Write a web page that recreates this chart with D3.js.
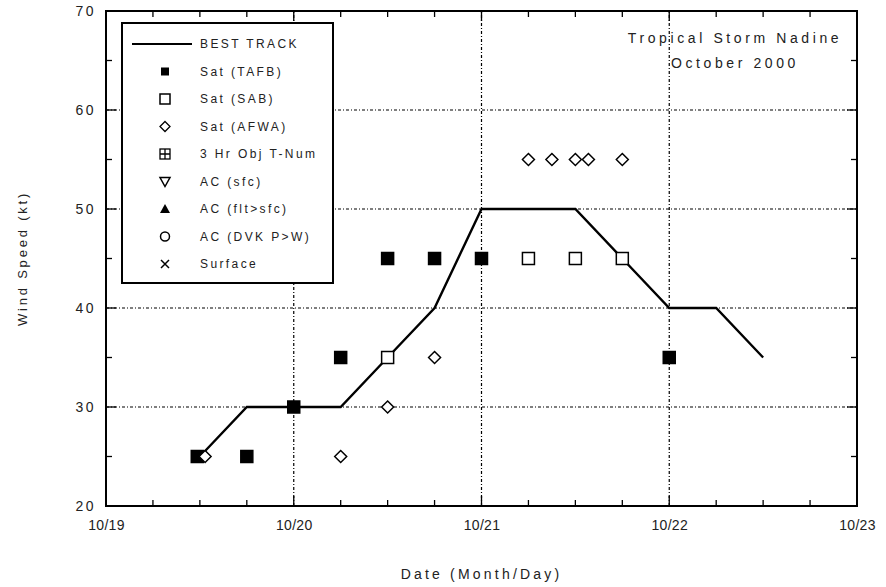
<!DOCTYPE html>
<html>
<head>
<meta charset="utf-8">
<script src="https://cdn.jsdelivr.net/npm/d3@7"></script>
<style>
  body { margin: 0; background: #fff; }
  text { font-family: "Liberation Sans", Arial, sans-serif; fill: #222; }
</style>
</head>
<body>
<div id="chart"></div>
<script>
// Best track, 6-hourly (UTC)
const bestTimes = ["2000-10-19T12:00", "2000-10-19T18:00", "2000-10-20T00:00", "2000-10-20T06:00", "2000-10-20T12:00",
  "2000-10-20T18:00", "2000-10-21T00:00", "2000-10-21T06:00", "2000-10-21T12:00", "2000-10-21T18:00",
  "2000-10-22T00:00", "2000-10-22T06:00", "2000-10-22T12:00"];
const bestWind = [25, 30, 30, 30, 35, 40, 50, 50, 50, 45, 40, 40, 35];

// Satellite estimates
const sabTimes = ["2000-10-20T12:00", "2000-10-21T06:00", "2000-10-21T12:00", "2000-10-21T18:00"];
const sabWind = [35, 45, 45, 45];

const tafbTimes = ["2000-10-19T11:40", "2000-10-19T18:00", "2000-10-20T00:00", "2000-10-20T06:00", "2000-10-20T12:00",
  "2000-10-20T18:00", "2000-10-21T00:00", "2000-10-22T00:00"];
const tafbWind = [25, 25, 30, 35, 45, 45, 45, 35];

const afwaTimes = ["2000-10-19T12:40", "2000-10-20T06:00", "2000-10-20T12:00", "2000-10-20T18:00", "2000-10-21T06:00",
  "2000-10-21T09:00", "2000-10-21T12:00", "2000-10-21T13:40", "2000-10-21T18:00"];
const afwaWind = [25, 25, 30, 35, 55, 55, 55, 55, 55];

const legendLabels = ["BEST TRACK", "Sat (TAFB)", "Sat (SAB)", "Sat (AFWA)", "3 Hr Obj T-Num",
  "AC (sfc)", "AC (flt>sfc)", "AC (DVK P>W)", "Surface"];

const parse = d3.utcParse("%Y-%m-%dT%H:%M");

const width = 886, height = 587;
const margin = { left: 106, right: 29, top: 11, bottom: 81 };

const svg = d3.select("#chart").append("svg")
  .attr("width", width)
  .attr("height", height);

const x = d3.scaleUtc()
  .domain([parse("2000-10-19T00:00"), parse("2000-10-23T00:00")])
  .range([margin.left, width - margin.right]);

const y = d3.scaleLinear()
  .domain([20, 70])
  .range([height - margin.bottom, margin.top]);

const x0 = x.range()[0], x1 = x.range()[1];
const y0 = y.range()[0], y1 = y.range()[1];

// grid lines (dash-dot)
const grid = svg.append("g")
  .attr("stroke", "#000")
  .attr("stroke-width", 1.2)
  .attr("stroke-dasharray", "3,2,1,2");
[30, 40, 50, 60].forEach(v => {
  grid.append("line").attr("x1", x0).attr("x2", x1).attr("y1", y(v)).attr("y2", y(v));
});
["2000-10-20T00:00", "2000-10-21T00:00", "2000-10-22T00:00"].forEach(t => {
  grid.append("line").attr("x1", x(parse(t))).attr("x2", x(parse(t))).attr("y1", y0).attr("y2", y1);
});

// axes: ticks inward on all four sides
const fmt = d3.utcFormat("%m/%d");
const dayTicks = x.ticks(d3.utcDay.every(1));
const sixHour = x.ticks(d3.utcHour.every(6));

svg.append("g")
  .attr("transform", `translate(0,${y0})`)
  .call(d3.axisBottom(x).tickValues(dayTicks).tickFormat(fmt).tickSize(0).tickPadding(14))
  .call(g => g.select(".domain").remove())
  .selectAll("text").attr("font-size", 14).attr("letter-spacing", 0.3);

svg.append("g")
  .attr("transform", `translate(${x0},0)`)
  .call(d3.axisLeft(y).tickValues([20, 30, 40, 50, 60, 70]).tickSize(0).tickPadding(10))
  .call(g => g.select(".domain").remove())
  .selectAll("text").attr("font-size", 14).attr("letter-spacing", 2.5);

const ticks = svg.append("g").attr("stroke", "#000").attr("stroke-width", 1.3);
sixHour.forEach(t => {
  const len = t.getUTCHours() === 0 ? 10 : 6;
  ticks.append("line").attr("x1", x(t)).attr("x2", x(t)).attr("y1", y0).attr("y2", y0 - len);
  ticks.append("line").attr("x1", x(t)).attr("x2", x(t)).attr("y1", y1).attr("y2", y1 + len);
});
d3.range(20, 71, 5).forEach(v => {
  const len = v % 10 === 0 ? 10 : 6;
  ticks.append("line").attr("x1", x0).attr("x2", x0 + len).attr("y1", y(v)).attr("y2", y(v));
  ticks.append("line").attr("x1", x1).attr("x2", x1 - len).attr("y1", y(v)).attr("y2", y(v));
});

// frame
svg.append("rect")
  .attr("x", x0).attr("y", y1)
  .attr("width", x1 - x0).attr("height", y0 - y1)
  .attr("fill", "none").attr("stroke", "#000").attr("stroke-width", 2);

// axis titles
svg.append("text")
  .attr("x", (x0 + x1) / 2).attr("y", 579)
  .attr("text-anchor", "middle").attr("font-size", 14).attr("letter-spacing", 3.2)
  .text("Date (Month/Day)");

svg.append("text")
  .attr("transform", `translate(27,${(y0 + y1) / 2}) rotate(-90)`)
  .attr("text-anchor", "middle").attr("font-size", 13).attr("letter-spacing", 2.8)
  .text("Wind Speed (kt)");

// storm title
svg.append("text")
  .attr("x", 735).attr("y", 43)
  .attr("text-anchor", "middle").attr("font-size", 14).attr("letter-spacing", 3.6)
  .text("Tropical Storm Nadine");
svg.append("text")
  .attr("x", 735).attr("y", 68)
  .attr("text-anchor", "middle").attr("font-size", 14).attr("letter-spacing", 3.6)
  .text("October 2000");

// best track line
const line = d3.line()
  .x(d => x(d[0]))
  .y(d => y(d[1]));

svg.append("path")
  .datum(bestTimes.map((t, i) => [parse(t), bestWind[i]]))
  .attr("d", line)
  .attr("fill", "none")
  .attr("stroke", "#000")
  .attr("stroke-width", 2.4);

// symbol helpers
const diamondPath = s => `M0,${-s}L${s},0L0,${s}L${-s},0Z`;

function drawSquares(times, vals, filled) {
  svg.append("g").selectAll("rect")
    .data(times.map((t, i) => [parse(t), vals[i]]))
    .enter().append("rect")
    .attr("x", d => x(d[0]) - 6).attr("y", d => y(d[1]) - 6)
    .attr("width", 12).attr("height", 12)
    .attr("fill", filled ? "#000" : "#fff")
    .attr("stroke", "#000").attr("stroke-width", 1.5);
}

drawSquares(sabTimes, sabWind, false);
drawSquares(tafbTimes, tafbWind, true);

svg.append("g").selectAll("path")
  .data(afwaTimes.map((t, i) => [parse(t), afwaWind[i]]))
  .enter().append("path")
  .attr("transform", d => `translate(${x(d[0])},${y(d[1])})`)
  .attr("d", diamondPath(6))
  .attr("fill", "#fff")
  .attr("stroke", "#000")
  .attr("stroke-width", 1.5);

// legend
const lg = svg.append("g");
lg.append("rect")
  .attr("x", 122).attr("y", 23).attr("width", 211).attr("height", 260)
  .attr("fill", "#fff").attr("stroke", "#000").attr("stroke-width", 2);

const rowY = i => 44 + i * 27.5;
const symX = 165;

legendLabels.forEach((lab, i) => {
  lg.append("text")
    .attr("x", 200).attr("y", rowY(i) + 4)
    .attr("font-size", 12).attr("letter-spacing", 2.4)
    .text(lab);
});

lg.append("line").attr("x1", 132).attr("x2", 192).attr("y1", rowY(0)).attr("y2", rowY(0))
  .attr("stroke", "#000").attr("stroke-width", 2);
lg.append("rect").attr("x", symX - 4).attr("y", rowY(1) - 4).attr("width", 8).attr("height", 8)
  .attr("fill", "#000");
lg.append("rect").attr("x", symX - 5).attr("y", rowY(2) - 5).attr("width", 10).attr("height", 10)
  .attr("fill", "none").attr("stroke", "#000").attr("stroke-width", 1.5);
lg.append("path").attr("transform", `translate(${symX},${rowY(3)})`).attr("d", diamondPath(5))
  .attr("fill", "none").attr("stroke", "#000").attr("stroke-width", 1.3);
lg.append("rect").attr("x", symX - 5).attr("y", rowY(4) - 5).attr("width", 10).attr("height", 10)
  .attr("fill", "none").attr("stroke", "#000").attr("stroke-width", 1.3);
lg.append("path").attr("d", `M${symX - 5},${rowY(4)}H${symX + 5}M${symX},${rowY(4) - 5}V${rowY(4) + 5}`)
  .attr("stroke", "#000").attr("stroke-width", 1.3);
lg.append("path").attr("transform", `translate(${symX},${rowY(5)})`).attr("d", "M-5,-4L5,-4L0,5Z")
  .attr("fill", "none").attr("stroke", "#000").attr("stroke-width", 1.5);
lg.append("path").attr("transform", `translate(${symX},${rowY(6)})`).attr("d", "M-5,4L5,4L0,-5Z")
  .attr("fill", "#000");
lg.append("circle").attr("cx", symX).attr("cy", rowY(7)).attr("r", 4.5)
  .attr("fill", "none").attr("stroke", "#000").attr("stroke-width", 1.5);
lg.append("path").attr("transform", `translate(${symX},${rowY(8)})`).attr("d", "M-4,-4L4,4M-4,4L4,-4")
  .attr("stroke", "#000").attr("stroke-width", 1.5);
</script>
</body>
</html>
